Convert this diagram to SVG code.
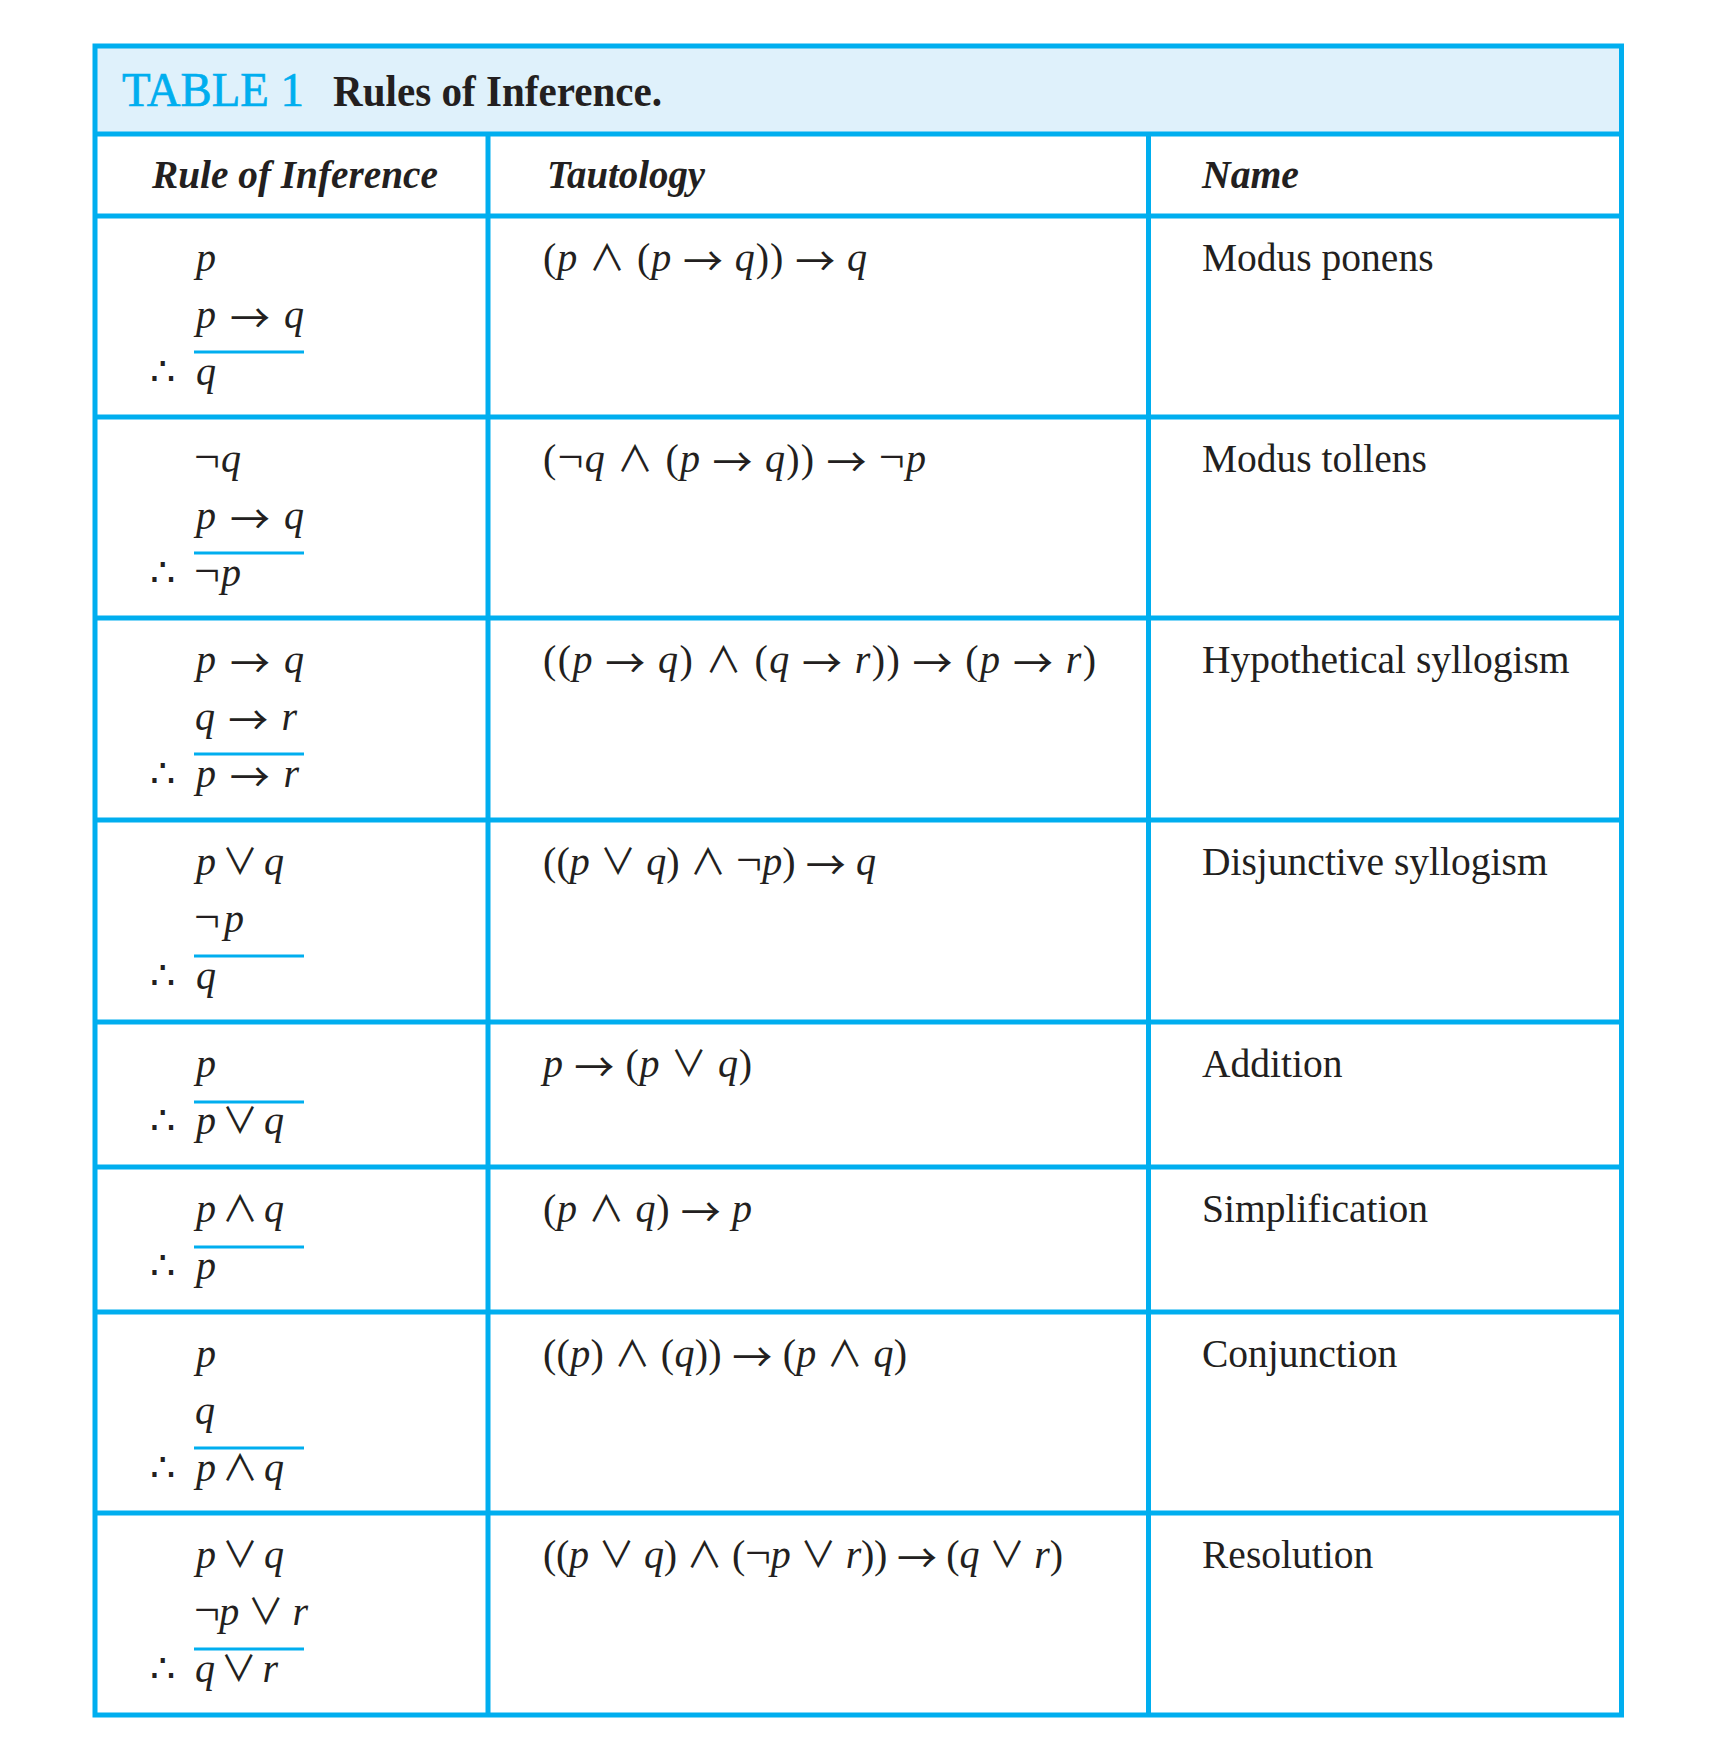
<svg xmlns="http://www.w3.org/2000/svg" width="1729" height="1739" viewBox="0 0 1729 1739">
<style>
.ln{stroke:#00AEEF;stroke-width:5;fill:none}
.ul{fill:#00AEEF}
.t{font-family:'Liberation Serif','DejaVu Serif',serif;fill:#231F20}
.m{font-size:40px}
.v{font-style:italic}
.o{font-family:'Noto Sans CJK JP','DejaVu Sans',sans-serif;font-size:36px;font-style:normal}
.a{font-family:'Noto Sans CJK JP','DejaVu Sans',sans-serif;font-size:40px;font-style:normal;baseline-shift:-5px}
.n{font-size:46px}
.nm{font-size:39.5px}
.hd{font-size:40px;font-weight:bold;font-style:italic}
</style>
<rect x="0" y="0" width="1729" height="1739" fill="#FFFFFF"/>
<rect x="95" y="46" width="1526.5" height="88" fill="#DFF1FB"/>
<g id="grid">
<rect class="ln" x="95" y="46" width="1526.5" height="1669"/>
<line class="ln" x1="95" y1="134" x2="1621.5" y2="134"/>
<line class="ln" x1="95" y1="216" x2="1621.5" y2="216"/>
<line class="ln" x1="95" y1="417" x2="1621.5" y2="417"/>
<line class="ln" x1="95" y1="618" x2="1621.5" y2="618"/>
<line class="ln" x1="95" y1="820" x2="1621.5" y2="820"/>
<line class="ln" x1="95" y1="1022" x2="1621.5" y2="1022"/>
<line class="ln" x1="95" y1="1167" x2="1621.5" y2="1167"/>
<line class="ln" x1="95" y1="1312" x2="1621.5" y2="1312"/>
<line class="ln" x1="95" y1="1513" x2="1621.5" y2="1513"/>
<line class="ln" x1="488" y1="134" x2="488" y2="1715"/>
<line class="ln" x1="1148.5" y1="134" x2="1148.5" y2="1715"/>
</g>
<g id="title">
<text class="t" x="122" y="106" font-size="48" style="fill:#00AEEF;stroke:#00AEEF;stroke-width:0.7" textLength="182" lengthAdjust="spacingAndGlyphs">TABLE 1</text>
<text class="t" x="333" y="106" font-size="44" font-weight="bold" textLength="329" lengthAdjust="spacingAndGlyphs">Rules of Inference.</text>
</g>
<g id="headers">
<text class="t hd" x="152" y="188" textLength="286" lengthAdjust="spacingAndGlyphs">Rule of Inference</text>
<text class="t hd" x="547" y="188" textLength="158" lengthAdjust="spacingAndGlyphs">Tautology</text>
<text class="t hd" x="1202" y="188" textLength="97" lengthAdjust="spacingAndGlyphs">Name</text>
</g>

<g id="row1">
<text class="t m" x="196" y="271"><tspan class="v">p</tspan></text>
<text class="t m" x="196" y="328" textLength="108" lengthAdjust="spacing"><tspan class="v">p</tspan> <tspan class="a">→</tspan> <tspan class="v">q</tspan></text>
<rect class="ul" x="194" y="350.5" width="110" height="3"/>
<text class="t m" x="150" y="385">∴</text>
<text class="t m" x="196" y="385"><tspan class="v">q</tspan></text>
<text class="t m" x="543" y="271" textLength="324" lengthAdjust="spacing">(<tspan class="v">p</tspan> <tspan class="o">∧</tspan> (<tspan class="v">p</tspan> <tspan class="a">→</tspan> <tspan class="v">q</tspan>)) <tspan class="a">→</tspan> <tspan class="v">q</tspan></text>
<text class="t nm" x="1202" y="271">Modus ponens</text>
</g>

<g id="row2">
<text class="t m" x="194" y="472" textLength="47" lengthAdjust="spacing"><tspan class="n">¬</tspan><tspan class="v">q</tspan></text>
<text class="t m" x="196" y="529" textLength="108" lengthAdjust="spacing"><tspan class="v">p</tspan> <tspan class="a">→</tspan> <tspan class="v">q</tspan></text>
<rect class="ul" x="194" y="551.5" width="110" height="3"/>
<text class="t m" x="150" y="586">∴</text>
<text class="t m" x="194" y="586" textLength="47" lengthAdjust="spacing"><tspan class="n">¬</tspan><tspan class="v">p</tspan></text>
<text class="t m" x="543" y="472" textLength="383" lengthAdjust="spacing">(<tspan class="n">¬</tspan><tspan class="v">q</tspan> <tspan class="o">∧</tspan> (<tspan class="v">p</tspan> <tspan class="a">→</tspan> <tspan class="v">q</tspan>)) <tspan class="a">→</tspan> <tspan class="n">¬</tspan><tspan class="v">p</tspan></text>
<text class="t nm" x="1202" y="472">Modus tollens</text>
</g>

<g id="row3">
<text class="t m" x="196" y="673" textLength="108" lengthAdjust="spacing"><tspan class="v">p</tspan> <tspan class="a">→</tspan> <tspan class="v">q</tspan></text>
<text class="t m" x="195" y="730" textLength="102" lengthAdjust="spacing"><tspan class="v">q</tspan> <tspan class="a">→</tspan> <tspan class="v">r</tspan></text>
<rect class="ul" x="194" y="752.5" width="110" height="3"/>
<text class="t m" x="150" y="787">∴</text>
<text class="t m" x="196" y="787" textLength="103" lengthAdjust="spacing"><tspan class="v">p</tspan> <tspan class="a">→</tspan> <tspan class="v">r</tspan></text>
<text class="t m" x="543" y="673" textLength="553" lengthAdjust="spacing">((<tspan class="v">p</tspan> <tspan class="a">→</tspan> <tspan class="v">q</tspan>) <tspan class="o">∧</tspan> (<tspan class="v">q</tspan> <tspan class="a">→</tspan> <tspan class="v">r</tspan>)) <tspan class="a">→</tspan> (<tspan class="v">p</tspan> <tspan class="a">→</tspan> <tspan class="v">r</tspan>)</text>
<text class="t nm" x="1202" y="673">Hypothetical syllogism</text>
</g>

<g id="row4">
<text class="t m" x="196" y="875" textLength="88" lengthAdjust="spacing"><tspan class="v">p</tspan> <tspan class="o">∨</tspan> <tspan class="v">q</tspan></text>
<text class="t m" x="194" y="932" textLength="50" lengthAdjust="spacing"><tspan class="n">¬</tspan><tspan class="v">p</tspan></text>
<rect class="ul" x="194" y="954.5" width="110" height="3"/>
<text class="t m" x="150" y="989">∴</text>
<text class="t m" x="196" y="989"><tspan class="v">q</tspan></text>
<text class="t m" x="543" y="875" textLength="333" lengthAdjust="spacing">((<tspan class="v">p</tspan> <tspan class="o">∨</tspan> <tspan class="v">q</tspan>) <tspan class="o">∧</tspan> <tspan class="n">¬</tspan><tspan class="v">p</tspan>) <tspan class="a">→</tspan> <tspan class="v">q</tspan></text>
<text class="t nm" x="1202" y="875">Disjunctive syllogism</text>
</g>

<g id="row5">
<text class="t m" x="196" y="1077"><tspan class="v">p</tspan></text>
<rect class="ul" x="194" y="1100.5" width="110" height="3"/>
<text class="t m" x="150" y="1134">∴</text>
<text class="t m" x="196" y="1134" textLength="88" lengthAdjust="spacing"><tspan class="v">p</tspan> <tspan class="o">∨</tspan> <tspan class="v">q</tspan></text>
<text class="t m" x="543" y="1077" textLength="209" lengthAdjust="spacing"><tspan class="v">p</tspan> <tspan class="a">→</tspan> (<tspan class="v">p</tspan> <tspan class="o">∨</tspan> <tspan class="v">q</tspan>)</text>
<text class="t nm" x="1202" y="1077">Addition</text>
</g>

<g id="row6">
<text class="t m" x="196" y="1222" textLength="88" lengthAdjust="spacing"><tspan class="v">p</tspan> <tspan class="o">∧</tspan> <tspan class="v">q</tspan></text>
<rect class="ul" x="194" y="1245.5" width="110" height="3"/>
<text class="t m" x="150" y="1279">∴</text>
<text class="t m" x="196" y="1279"><tspan class="v">p</tspan></text>
<text class="t m" x="543" y="1222" textLength="209" lengthAdjust="spacing">(<tspan class="v">p</tspan> <tspan class="o">∧</tspan> <tspan class="v">q</tspan>) <tspan class="a">→</tspan> <tspan class="v">p</tspan></text>
<text class="t nm" x="1202" y="1222">Simplification</text>
</g>

<g id="row7">
<text class="t m" x="196" y="1367"><tspan class="v">p</tspan></text>
<text class="t m" x="195" y="1424"><tspan class="v">q</tspan></text>
<rect class="ul" x="194" y="1446.5" width="110" height="3"/>
<text class="t m" x="150" y="1481">∴</text>
<text class="t m" x="196" y="1481" textLength="88" lengthAdjust="spacing"><tspan class="v">p</tspan> <tspan class="o">∧</tspan> <tspan class="v">q</tspan></text>
<text class="t m" x="543" y="1367" textLength="364" lengthAdjust="spacing">((<tspan class="v">p</tspan>) <tspan class="o">∧</tspan> (<tspan class="v">q</tspan>)) <tspan class="a">→</tspan> (<tspan class="v">p</tspan> <tspan class="o">∧</tspan> <tspan class="v">q</tspan>)</text>
<text class="t nm" x="1202" y="1367">Conjunction</text>
</g>

<g id="row8">
<text class="t m" x="196" y="1568" textLength="88" lengthAdjust="spacing"><tspan class="v">p</tspan> <tspan class="o">∨</tspan> <tspan class="v">q</tspan></text>
<text class="t m" x="194" y="1625" textLength="114" lengthAdjust="spacing"><tspan class="n">¬</tspan><tspan class="v">p</tspan> <tspan class="o">∨</tspan> <tspan class="v">r</tspan></text>
<rect class="ul" x="194" y="1647.5" width="110" height="3"/>
<text class="t m" x="150" y="1682">∴</text>
<text class="t m" x="195" y="1682" textLength="83" lengthAdjust="spacing"><tspan class="v">q</tspan> <tspan class="o">∨</tspan> <tspan class="v">r</tspan></text>
<text class="t m" x="543" y="1568" textLength="520" lengthAdjust="spacing">((<tspan class="v">p</tspan> <tspan class="o">∨</tspan> <tspan class="v">q</tspan>) <tspan class="o">∧</tspan> (<tspan class="n">¬</tspan><tspan class="v">p</tspan> <tspan class="o">∨</tspan> <tspan class="v">r</tspan>)) <tspan class="a">→</tspan> (<tspan class="v">q</tspan> <tspan class="o">∨</tspan> <tspan class="v">r</tspan>)</text>
<text class="t nm" x="1202" y="1568">Resolution</text>
</g>
</svg>
